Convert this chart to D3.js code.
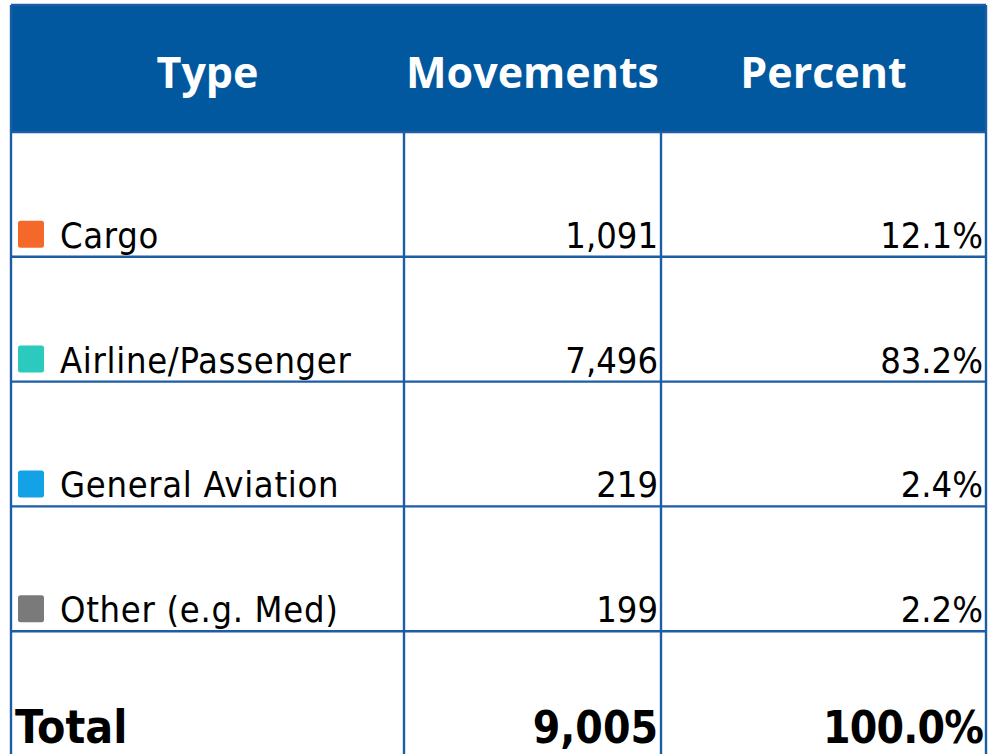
<!DOCTYPE html>
<html>
<head>
<meta charset="utf-8">
<script src="https://cdn.jsdelivr.net/npm/d3@7"></script>
<style>
  html, body { margin: 0; padding: 0; background: #ffffff; }
  svg { display: block; }
</style>
</head>
<body>
<svg id="chart" width="992" height="754"></svg>
<script>
// ---- Data ----
const headers = ["Type", "Movements", "Percent"];
const categories = ["Cargo", "Airline/Passenger", "General Aviation", "Other (e.g. Med)"];
const movements = [1091, 7496, 219, 199];
const percents = [12.1, 83.2, 2.4, 2.2];
const swatchColors = ["#F4692A", "#2BC9BE", "#13A2E6", "#7A7A7A"];
const totalLabel = "Total";
const totalMovements = 9005;
const totalPercent = 100.0;

(function () {
const svg = d3.select("#chart");
const tLeft = 11, tRight = 986, tTop = 5, headerBottom = 132, tBottom = 756;
const colEdges = [tLeft, 404, 661, tRight];
const border = "#1C5EA6";
const headerFill = "#02589F";

const rowKeys = categories.concat([totalLabel]);
const y = d3.scaleBand().domain(rowKeys).range([headerBottom, tBottom]).paddingInner(0).paddingOuter(0);

const fmtInt = d3.format(",");
const fmtPct = d => d3.format(".1f")(d) + "%";

svg.append("rect").attr("x", tLeft).attr("y", tTop).attr("width", tRight - tLeft).attr("height", headerBottom - tTop).attr("fill", headerFill);

const g = svg.append("g").attr("stroke", border).attr("stroke-width", 2.4).attr("fill", "none");
rowKeys.forEach(k => {
  g.append("line").attr("x1", tLeft).attr("x2", tRight).attr("y1", y(k) + y.bandwidth()).attr("y2", y(k) + y.bandwidth());
});
colEdges.forEach((x, i) => {
  g.append("line").attr("x1", x).attr("x2", x).attr("y1", i === 0 || i === 3 ? tTop : headerBottom).attr("y2", tBottom);
});
g.append("line").attr("x1", tLeft).attr("x2", tRight).attr("y1", tTop).attr("y2", tTop);
g.append("line").attr("x1", tLeft).attr("x2", tRight).attr("y1", headerBottom).attr("y2", headerBottom);

const headFont = "'Open Sans', 'Noto Sans', sans-serif";
headers.forEach((h, i) => {
  svg.append("text")
    .attr("x", (colEdges[i] + colEdges[i + 1]) / 2)
    .attr("y", 88)
    .attr("text-anchor", "middle")
    .attr("fill", "#ffffff")
    .attr("font-family", headFont)
    .attr("font-weight", "700")
    .attr("font-size", 43)
    .text(h);
});

const bodyFont = "'DejaVu Sans Condensed', 'DejaVu Sans', sans-serif";
const baseOff = 9;

categories.forEach((c, i) => {
  const yb = y(c) + y.bandwidth() - baseOff;
  svg.append("rect")
    .attr("x", 18).attr("y", yb - 27)
    .attr("width", 26).attr("height", 27)
    .attr("rx", 2.5).attr("ry", 2.5)
    .attr("fill", swatchColors[i]);
  svg.append("text")
    .attr("x", 60).attr("y", yb)
    .attr("font-family", bodyFont).attr("font-size", 36).attr("fill", "#000")
    .attr("letter-spacing", 0.7)
    .text(c);
  svg.append("text")
    .attr("x", colEdges[2] - 3).attr("y", yb)
    .attr("text-anchor", "end")
    .attr("font-family", bodyFont).attr("font-size", 36).attr("fill", "#000")
    .text(fmtInt(movements[i]));
  svg.append("text")
    .attr("x", colEdges[3] - 3).attr("y", yb)
    .attr("text-anchor", "end")
    .attr("font-family", bodyFont).attr("font-size", 36).attr("fill", "#000")
    .text(fmtPct(percents[i]));
});

const yt = y(totalLabel) + y.bandwidth() - 13;
svg.append("text")
  .attr("x", 15).attr("y", yt)
  .attr("font-family", bodyFont).attr("font-weight", "700").attr("font-size", 46).attr("fill", "#000")
  .text(totalLabel);
svg.append("text")
  .attr("x", colEdges[2] - 3).attr("y", yt)
  .attr("text-anchor", "end")
  .attr("font-family", bodyFont).attr("font-weight", "700").attr("font-size", 44).attr("fill", "#000")
  .text(fmtInt(totalMovements));
svg.append("text")
  .attr("x", colEdges[3] - 3).attr("y", yt)
  .attr("text-anchor", "end")
  .attr("font-family", bodyFont).attr("font-weight", "700").attr("font-size", 44).attr("fill", "#000")
  .attr("letter-spacing", -0.8)
  .text(fmtPct(totalPercent));
})();
</script>
</body>
</html>
